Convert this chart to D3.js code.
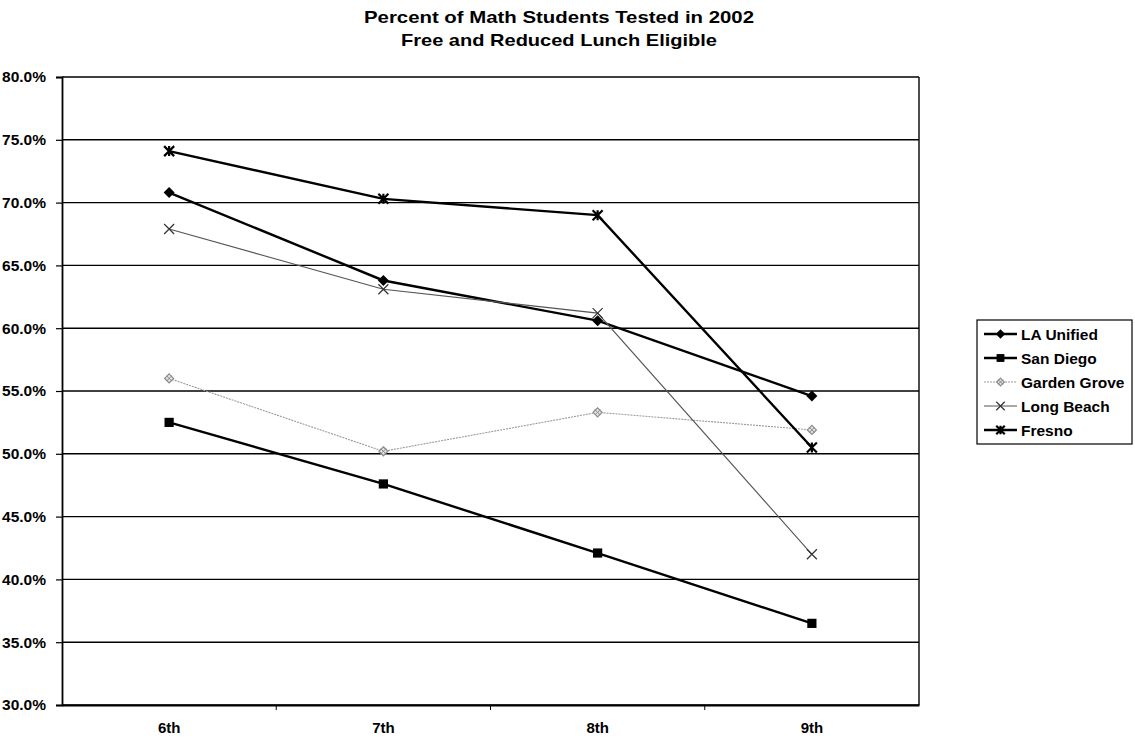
<!DOCTYPE html>
<html>
<head>
<meta charset="utf-8">
<script src="https://cdn.jsdelivr.net/npm/d3@7"></script>
<style>
  html, body { margin: 0; padding: 0; background: #fff; }
  svg { display: block; font-family: "Liberation Sans", Arial, sans-serif; }
</style>
</head>
<body>
<svg id="chart" width="1135" height="741"></svg>
<script>
// Grade levels on the x axis
const grades = ["6th", "7th", "8th", "9th"];

// Percent of tested math students eligible for free/reduced lunch, by district
const laUnified   = [70.8, 63.8, 60.6, 54.6];
const sanDiego    = [52.5, 47.6, 42.1, 36.5];
const gardenGrove = [56.0, 50.2, 53.3, 51.9];
const longBeach   = [67.9, 63.1, 61.2, 42.0];
const fresno      = [74.1, 70.3, 69.0, 50.5];

const yTicks = [30, 35, 40, 45, 50, 55, 60, 65, 70, 75, 80];

const seriesNames = ["LA Unified", "San Diego", "Garden Grove", "Long Beach", "Fresno"];
const seriesValues = [laUnified, sanDiego, gardenGrove, longBeach, fresno];

// Drawing style per series
const styles = {
  "LA Unified":   { stroke: "#000", width: 2.4, dash: null, marker: "diamond" },
  "San Diego":    { stroke: "#000", width: 2.4, dash: null, marker: "square" },
  "Garden Grove": { stroke: "#9a9a9a", width: 1.1, dash: "2,1", marker: "star" },
  "Long Beach":   { stroke: "#555", width: 1.1, dash: null, marker: "cross" },
  "Fresno":       { stroke: "#000", width: 2.4, dash: null, marker: "asterisk" }
};

const svg = d3.select("#chart");
const plot = { left: 62, right: 919, top: 77, bottom: 705 };

const x = d3.scaleBand().domain(grades).range([plot.left, plot.right]);
const y = d3.scaleLinear().domain([30, 80]).range([plot.bottom, plot.top]);
const cx = g => x(g) + x.bandwidth() / 2;

// Title
const title = svg.append("g").attr("font-weight", "bold").attr("font-size", 17)
  .attr("text-anchor", "middle");
title.append("text").attr("x", 559).attr("y", 23)
  .attr("textLength", 390).attr("lengthAdjust", "spacingAndGlyphs")
  .text("Percent of Math Students Tested in 2002");
title.append("text").attr("x", 559).attr("y", 46)
  .attr("textLength", 316).attr("lengthAdjust", "spacingAndGlyphs")
  .text("Free and Reduced Lunch Eligible");

// Horizontal gridlines
svg.append("g").selectAll("line").data(yTicks).join("line")
  .attr("x1", plot.left).attr("x2", plot.right)
  .attr("y1", d => y(d)).attr("y2", d => y(d))
  .attr("stroke", "#000").attr("stroke-width", 1.4);

// Right border
svg.append("line").attr("x1", plot.right).attr("x2", plot.right)
  .attr("y1", plot.top).attr("y2", plot.bottom)
  .attr("stroke", "#000").attr("stroke-width", 1.4);

// Y axis
const yAxis = d3.axisLeft(y).tickValues(yTicks).tickSize(6).tickPadding(10)
  .tickFormat(d => d.toFixed(1) + "%");
const yg = svg.append("g").attr("transform", `translate(${plot.left},0)`).call(yAxis);
yg.select(".domain").attr("stroke", "#000").attr("stroke-width", 1.8);
yg.selectAll(".tick line").attr("stroke", "#000").attr("stroke-width", 1.2);
yg.selectAll("text").attr("font-size", 15.5).attr("font-weight", "bold")
  .attr("font-family", "Liberation Sans, Arial, sans-serif").attr("fill", "#000");

// X axis
const xAxis = d3.axisBottom(x).tickSize(0).tickPadding(17);
const xg = svg.append("g").attr("transform", `translate(0,${plot.bottom})`).call(xAxis);
xg.select(".domain").attr("stroke", "#000").attr("stroke-width", 1.8);
xg.selectAll("text").attr("font-size", 15).attr("font-weight", "bold")
  .attr("font-family", "Liberation Sans, Arial, sans-serif").attr("fill", "#000");
// Category separators on the x axis
svg.append("g").selectAll("line").data(grades.slice(1)).join("line")
  .attr("x1", d => x(d)).attr("x2", d => x(d))
  .attr("y1", plot.bottom).attr("y2", plot.bottom + 5)
  .attr("stroke", "#000").attr("stroke-width", 1);

// Marker drawing
function drawMarker(g, type, px, py, scale) {
  const s = scale || 1;
  if (type === "diamond") {
    const r = 5.5 * s;
    g.append("path").attr("d", `M${px},${py - r}L${px + r},${py}L${px},${py + r}L${px - r},${py}Z`)
      .attr("fill", "#000");
  } else if (type === "square") {
    const r = 4.6 * s;
    g.append("rect").attr("x", px - r).attr("y", py - r).attr("width", 2 * r).attr("height", 2 * r)
      .attr("fill", "#000");
  } else if (type === "star") {
    const r = 4.5 * s;
    g.append("path").attr("d", `M${px},${py - r}L${px + r},${py}L${px},${py + r}L${px - r},${py}Z`)
      .attr("fill", "#e4e4e4").attr("stroke", "#8a8a8a").attr("stroke-width", 1.2);
    g.append("path").attr("d", `M${px - r * 0.6},${py - r * 0.6}L${px + r * 0.6},${py + r * 0.6}M${px + r * 0.6},${py - r * 0.6}L${px - r * 0.6},${py + r * 0.6}`)
      .attr("stroke", "#8a8a8a").attr("stroke-width", 1);
  } else if (type === "cross") {
    const r = 5 * s;
    g.append("path").attr("d", `M${px - r},${py - r}L${px + r},${py + r}M${px + r},${py - r}L${px - r},${py + r}`)
      .attr("stroke", "#333").attr("stroke-width", 1.2);
  } else if (type === "asterisk") {
    const r = 5 * s;
    g.append("path").attr("d", `M${px - r},${py - r}L${px + r},${py + r}M${px + r},${py - r}L${px - r},${py + r}M${px},${py - r}L${px},${py + r}`)
      .attr("stroke", "#000").attr("stroke-width", 2.2);
  }
}

// Series lines and markers
const line = d3.line().x((d, i) => cx(grades[i])).y(d => y(d));
seriesNames.forEach((name, k) => {
  const st = styles[name];
  const g = svg.append("g").attr("class", "series");
  g.append("path").datum(seriesValues[k]).attr("d", line)
    .attr("fill", "none").attr("stroke", st.stroke).attr("stroke-width", st.width)
    .attr("stroke-dasharray", st.dash);
  seriesValues[k].forEach((v, i) => drawMarker(g, st.marker, cx(grades[i]), y(v)));
});

// Legend
const legend = svg.append("g");
legend.append("rect").attr("x", 977).attr("y", 320).attr("width", 155).attr("height", 124)
  .attr("fill", "#fff").attr("stroke", "#000").attr("stroke-width", 1.2);
seriesNames.forEach((name, k) => {
  const st = styles[name];
  const ly = 334 + k * 24;
  legend.append("line").attr("x1", 984).attr("x2", 1017).attr("y1", ly).attr("y2", ly)
    .attr("stroke", st.stroke).attr("stroke-width", st.width).attr("stroke-dasharray", st.dash);
  drawMarker(legend, st.marker, 1000.5, ly, 0.85);
  legend.append("text").attr("x", 1021).attr("y", ly + 5.5).attr("font-size", 15.5)
    .attr("font-weight", "bold").text(name);
});
</script>
</body>
</html>
